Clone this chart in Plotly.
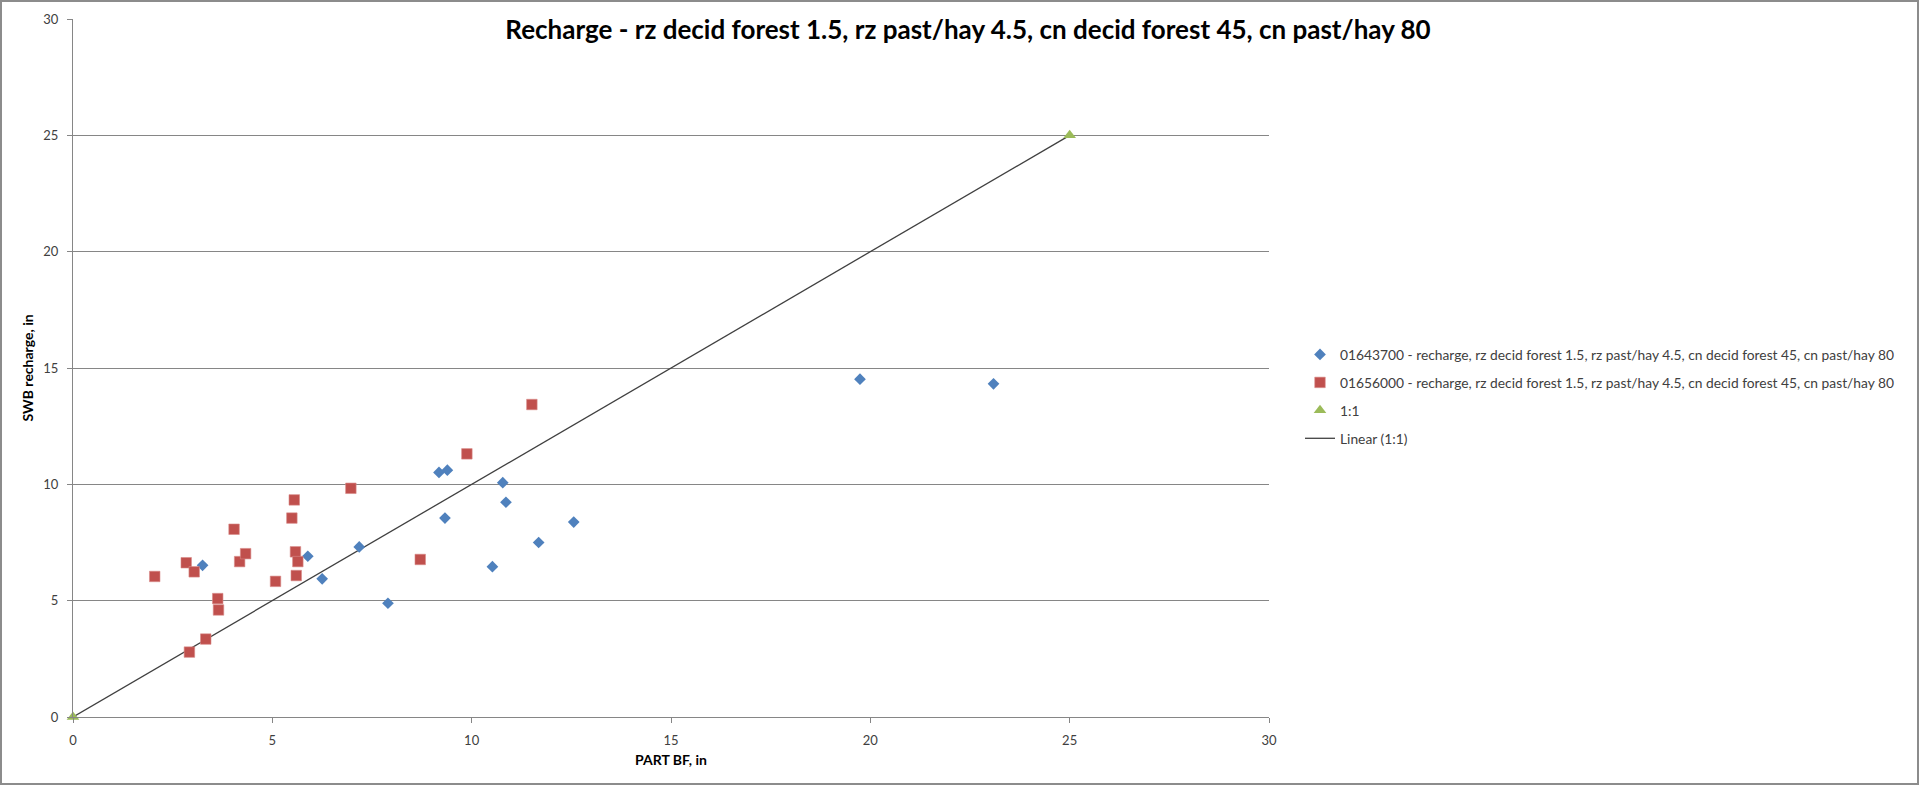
import plotly.graph_objects as go

# ---- data ----
blue_name = "01643700 - recharge, rz decid forest 1.5, rz past/hay 4.5, cn decid forest 45, cn past/hay 80"
blue_x = [3.25, 5.89, 6.25, 7.18, 7.90, 9.18, 9.39, 9.33, 10.78, 10.86, 10.52, 11.68, 12.56, 19.74, 23.09]
blue_y = [6.52, 6.91, 5.94, 7.31, 4.89, 10.51, 10.61, 8.55, 10.07, 9.23, 6.46, 7.50, 8.38, 14.52, 14.32]

red_name = "01656000 - recharge, rz decid forest 1.5, rz past/hay 4.5, cn decid forest 45, cn past/hay 80"
red_x = [2.05, 2.84, 3.04, 2.92, 3.33, 3.63, 3.65, 4.04, 4.18, 4.33, 5.08, 5.49, 5.55, 5.58, 5.64, 5.60,
         6.97, 8.71, 9.88, 11.51]
red_y = [6.04, 6.63, 6.24, 2.79, 3.35, 5.09, 4.60, 8.07, 6.68, 7.02, 5.83, 8.55, 9.33, 7.10, 6.68, 6.08,
         9.83, 6.77, 11.31, 13.43]

one_name = "1:1"
one_x = [0, 25]
one_y = [0, 25]

line_name = "Linear (1:1)"

title_text = "Recharge - rz decid forest 1.5, rz past/hay 4.5, cn decid forest 45, cn past/hay 80"
x_title = "PART BF, in"
y_title = "SWB recharge, in"
x_ticks = [0, 5, 10, 15, 20, 25, 30]
y_ticks = [0, 5, 10, 15, 20, 25, 30]

# ---- layout constants ----
W, H = 1920, 786
ML, MR, MT, MB = 73, 651, 19, 69
PW = W - ML - MR
PH = H - MT - MB
FONT = "Lato, Calibri, 'Open Sans', sans-serif"
GRID = "#868686"
TXT = "#404040"


def px_to_paper_x(X):
    return (X - ML) / PW


def px_to_paper_y(Y):
    return (H - MB - Y) / PH


fig = go.Figure()

# trend line first so that markers are drawn on top of it
fig.add_trace(go.Scatter(
    x=one_x, y=one_y, mode="lines", name=line_name, legendgroup="d", legendrank=4,
    line=dict(color="#404040", width=1.3),
))
fig.add_trace(go.Scatter(
    x=blue_x, y=blue_y, mode="markers", name=blue_name, legendgroup="a", legendrank=1,
    marker=dict(symbol="diamond", size=9, color="#4F81BD", line=dict(width=0)),
    cliponaxis=False,
))
fig.add_trace(go.Scatter(
    x=red_x, y=red_y, mode="markers", name=red_name, legendgroup="b", legendrank=2,
    marker=dict(symbol="square", size=10.5, color="#C0504D", line=dict(width=0.6, color="#D88A88")),
    cliponaxis=False,
))
fig.add_trace(go.Scatter(
    x=one_x, y=one_y, mode="markers", name=one_name, legendgroup="c", legendrank=3,
    marker=dict(symbol="triangle-up", size=11, color="#9BBB59", line=dict(width=0)),
    cliponaxis=False,
))

fig.update_layout(
    width=W, height=H,
    margin=dict(l=ML, r=MR, t=MT, b=MB, autoexpand=False),
    paper_bgcolor="white", plot_bgcolor="white",
    font=dict(family=FONT, size=13, color=TXT),
    title=dict(
        text="<b>" + title_text + "</b>",
        font=dict(family=FONT, size=26, color="#000000"),
        x=968 / W, xanchor="center",
        y=1 - 30 / H, yanchor="middle", yref="container", xref="container",
    ),
    showlegend=True,
    legend=dict(
        x=px_to_paper_x(1300), xanchor="left",
        y=px_to_paper_y(339), yanchor="top",
        font=dict(family=FONT, size=13.8, color=TXT),
        traceorder="grouped", tracegroupgap=7,
        bgcolor="rgba(0,0,0,0)", borderwidth=0,
        itemsizing="trace",
    ),
    xaxis=dict(
        range=[0, 30], tickvals=x_ticks, ticktext=[str(v) for v in x_ticks],
        showgrid=False, zeroline=False,
        showline=True, linecolor=GRID, linewidth=1,
        ticks="outside", ticklen=5, tickcolor=GRID, tickwidth=1,
        tickfont=dict(family=FONT, size=13, color=TXT),
        ticklabelstandoff=6,
        title=dict(text="<b>" + x_title + "</b>", font=dict(family=FONT, size=14, color="#000000"), standoff=8),
        fixedrange=True,
    ),
    yaxis=dict(
        range=[0, 30], tickvals=y_ticks, ticktext=[str(v) for v in y_ticks],
        showgrid=True, gridcolor=GRID, gridwidth=1,
        zeroline=False,
        showline=True, linecolor=GRID, linewidth=1,
        ticks="outside", ticklen=5, tickcolor=GRID, tickwidth=1,
        tickfont=dict(family=FONT, size=13, color=TXT),
        ticklabelstandoff=6,
        title=dict(text="<b>" + y_title + "</b>", font=dict(family=FONT, size=14, color="#000000"), standoff=6),
        fixedrange=True,
    ),
    shapes=[
        dict(type="rect", xref="paper", yref="paper",
             x0=px_to_paper_x(1), x1=px_to_paper_x(W - 2),
             y0=px_to_paper_y(H - 2), y1=px_to_paper_y(1),
             line=dict(color="#8C8C8C", width=2), fillcolor="rgba(0,0,0,0)", layer="below"),
    ],
)

fig.write_html(
    "out.html",
    config={"displayModeBar": False},
    post_script="document.body.style.margin='0';document.body.style.overflow='hidden';",
)
